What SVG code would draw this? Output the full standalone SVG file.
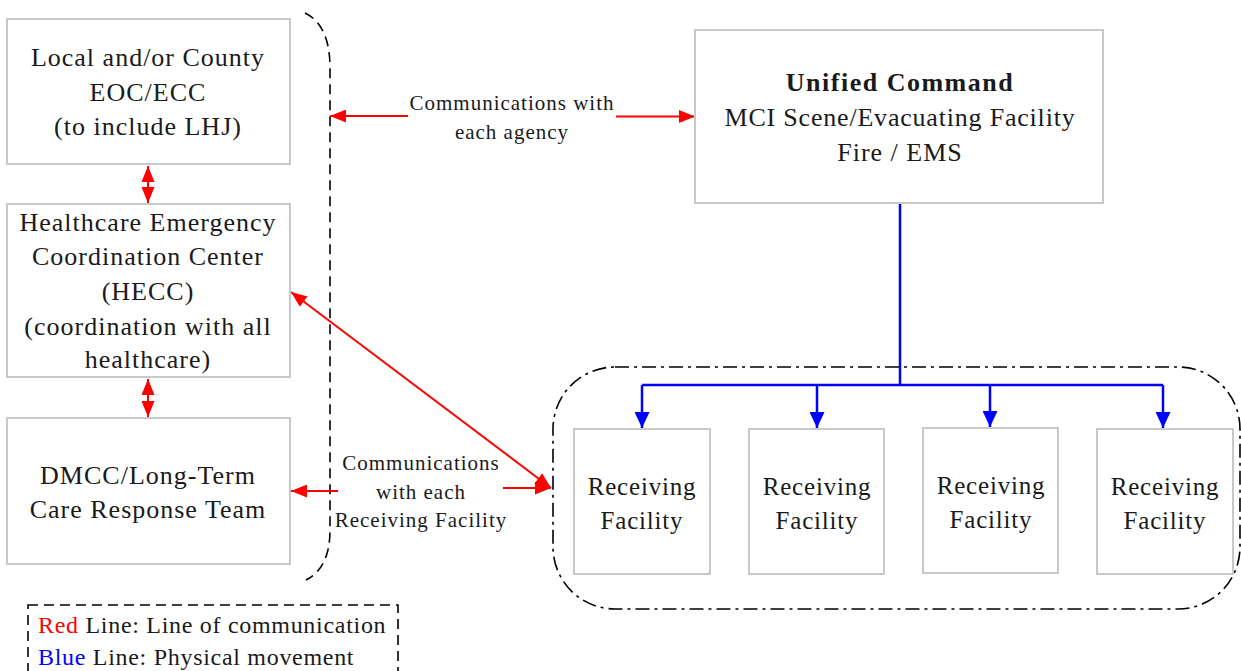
<svg xmlns="http://www.w3.org/2000/svg" width="1241" height="671" viewBox="0 0 1241 671">
<style>
.box{fill:#fff;stroke:#c8c8c8;stroke-width:2}
.t{font-family:"Liberation Serif","Times New Roman",serif;fill:#1a1a1a;text-anchor:middle}
.big{font-size:26px;letter-spacing:1px}
.rf{font-size:25px;letter-spacing:0.8px}
.sm{font-size:21px;letter-spacing:1px}
.red{stroke:#ff0000;stroke-width:2;fill:none}
.blue{stroke:#0000ff;stroke-width:2.5;fill:none}
</style>
<defs>
<marker id="ar" markerUnits="userSpaceOnUse" markerWidth="16" markerHeight="13" refX="16" refY="6.5" orient="auto-start-reverse"><path d="M0,0 L16,6.5 L0,13 z" fill="#ff0000"/></marker>
<marker id="ab" markerUnits="userSpaceOnUse" markerWidth="16" markerHeight="15" refX="16" refY="7.5" orient="auto"><path d="M0,0 L16,7.5 L0,15 z" fill="#0000ff"/></marker>
</defs>
<rect width="1241" height="671" fill="#fff"/>

<g id="containers">
<path d="M305,13 Q330,25 330,68 L330,530 Q330,568 306,580" fill="none" stroke="#000" stroke-width="1.6" stroke-dasharray="10,6"/>
<rect x="553" y="367" width="687" height="242" rx="62" ry="62" fill="none" stroke="#000" stroke-width="1.6" stroke-dasharray="14,5,3,5"/>
</g>

<g id="connectors">
<line class="red" x1="148" y1="166" x2="148" y2="203" marker-start="url(#ar)" marker-end="url(#ar)"/>
<line class="red" x1="148" y1="379" x2="148" y2="417" marker-start="url(#ar)" marker-end="url(#ar)"/>
<line class="red" x1="408" y1="116" x2="330" y2="116" marker-end="url(#ar)"/>
<line class="red" x1="616" y1="116.5" x2="695" y2="116.5" marker-end="url(#ar)"/>
<line class="red" x1="291" y1="292" x2="551" y2="488" marker-start="url(#ar)" marker-end="url(#ar)"/>
<line class="red" x1="503" y1="488" x2="551" y2="488" marker-end="url(#ar)"/>
<line class="red" x1="338" y1="491" x2="291" y2="491" marker-end="url(#ar)"/>
<polyline class="blue" points="900,204 900,385"/>
<line class="blue" x1="642" y1="385" x2="1163" y2="385"/>
<line class="blue" x1="642" y1="385" x2="642" y2="428" marker-end="url(#ab)"/>
<line class="blue" x1="817" y1="385" x2="817" y2="428" marker-end="url(#ab)"/>
<line class="blue" x1="990" y1="385" x2="990" y2="427" marker-end="url(#ab)"/>
<line class="blue" x1="1163" y1="385" x2="1163" y2="428" marker-end="url(#ab)"/>
</g>

<g id="label-agency">
<rect x="409" y="92" width="206" height="50" fill="#fff"/>
<text class="t sm" x="512" y="110">Communications with</text>
<text class="t sm" x="512" y="139">each agency</text>
</g>
<g id="label-receiving">
<text class="t sm" x="421" y="470">Communications</text>
<text class="t sm" x="421" y="499">with each</text>
<text class="t sm" x="421" y="527">Receiving Facility</text>
</g>

<g id="node-eoc">
<rect class="box" x="7" y="19" width="283" height="145"/>
<text class="t big" x="148" y="66">Local and/or County</text>
<text class="t big" x="148" y="101">EOC/ECC</text>
<text class="t big" x="148" y="135">(to include LHJ)</text>
</g>
<g id="node-hecc">
<rect class="box" x="7" y="204" width="283" height="173"/>
<text class="t big" x="148" y="231">Healthcare Emergency</text>
<text class="t big" x="148" y="265">Coordination Center</text>
<text class="t big" x="148" y="300">(HECC)</text>
<text class="t big" x="148" y="335">(coordination with all</text>
<text class="t big" x="148" y="368">healthcare)</text>
</g>
<g id="node-dmcc">
<rect class="box" x="7" y="418" width="283" height="146"/>
<text class="t big" x="148" y="484">DMCC/Long-Term</text>
<text class="t big" x="148" y="518">Care Response Team</text>
</g>
<g id="node-unified">
<rect class="box" x="695" y="30" width="408" height="173"/>
<text class="t" x="900" y="91" style="font-size:26px;font-weight:bold;letter-spacing:1.5px">Unified Command</text>
<text class="t" x="900" y="126" style="font-size:26px;letter-spacing:0.8px">MCI Scene/Evacuating Facility</text>
<text class="t big" x="900" y="161">Fire / EMS</text>
</g>
<g id="node-rf1">
<rect class="box" x="574" y="429" width="136" height="145"/>
<text class="t rf" x="642" y="495">Receiving</text>
<text class="t rf" x="642" y="529">Facility</text>
</g>
<g id="node-rf2">
<rect class="box" x="749" y="429" width="135" height="145"/>
<text class="t rf" x="817" y="495">Receiving</text>
<text class="t rf" x="817" y="529">Facility</text>
</g>
<g id="node-rf3">
<rect class="box" x="923" y="428" width="135" height="145"/>
<text class="t rf" x="991" y="494">Receiving</text>
<text class="t rf" x="991" y="528">Facility</text>
</g>
<g id="node-rf4">
<rect class="box" x="1097" y="429" width="136" height="145"/>
<text class="t rf" x="1165" y="495">Receiving</text>
<text class="t rf" x="1165" y="529">Facility</text>
</g>

<g id="legend">
<rect x="28" y="605" width="370" height="80" fill="none" stroke="#000" stroke-width="1.6" stroke-dasharray="10,6"/>
<text class="t" x="38" y="633" style="font-size:24px;letter-spacing:0.7px;text-anchor:start"><tspan fill="#ff0000">Red</tspan> Line: Line of communication</text>
<text class="t" x="38" y="665" style="font-size:24px;letter-spacing:0.7px;text-anchor:start"><tspan fill="#0000ff">Blue</tspan> Line: Physical movement</text>
</g>
</svg>
